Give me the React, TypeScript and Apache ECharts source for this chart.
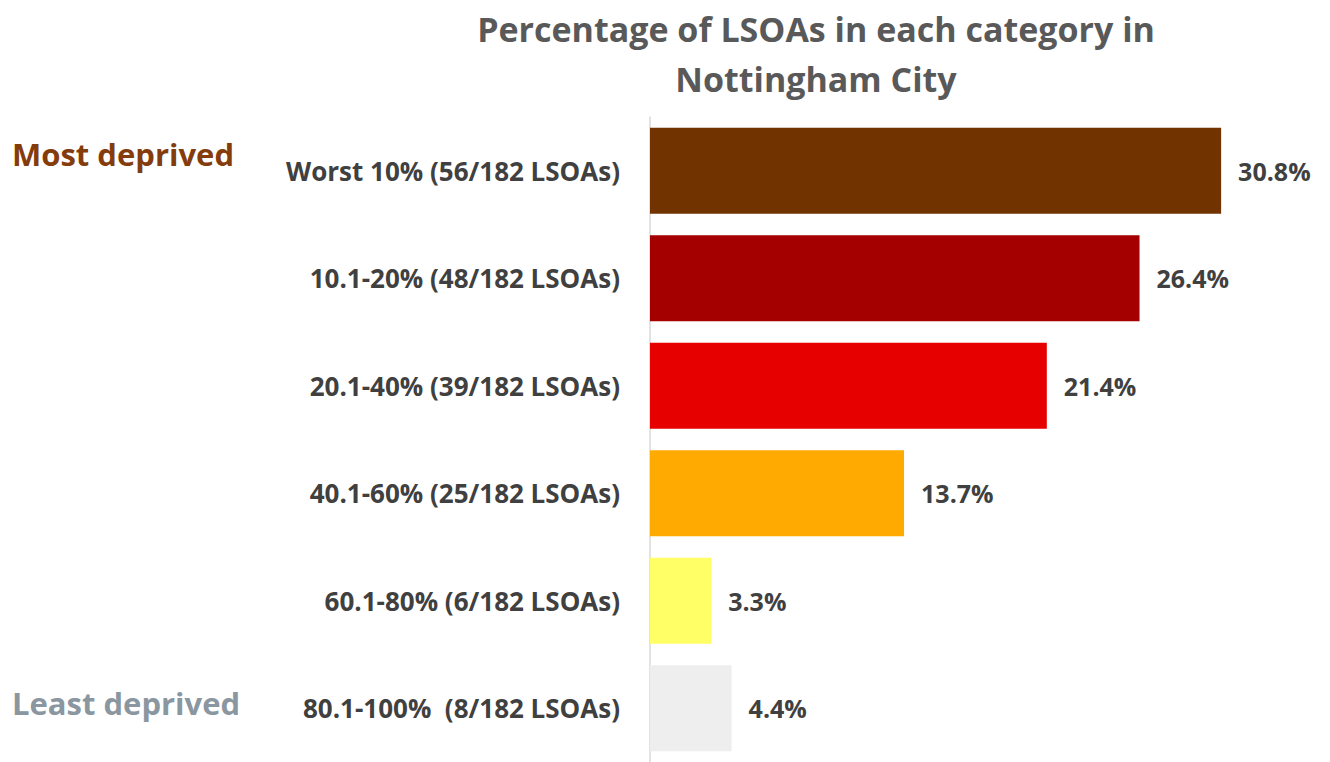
import React, { useEffect, useRef } from "react";
import * as echarts from "echarts";

const categories = [
  "Worst 10% (56/182 LSOAs)",
  "10.1-20% (48/182 LSOAs)",
  "20.1-40% (39/182 LSOAs)",
  "40.1-60% (25/182 LSOAs)",
  "60.1-80% (6/182 LSOAs)",
  "80.1-100%  (8/182 LSOAs)",
];
const values = [30.8, 26.4, 21.4, 13.7, 3.3, 4.4];
const barColors = ["#713300", "#a50000", "#e60000", "#ffaa00", "#ffff66", "#eeeeee"];
const titleText = "Percentage of LSOAs in each category in\nNottingham City";
const topNote = "Most deprived";
const bottomNote = "Least deprived";

const FONT = "'Open Sans', sans-serif";

export default function App() {
  const ref = useRef<HTMLDivElement>(null);
  useEffect(() => {
    if (!ref.current) return;
    const chart = echarts.init(ref.current, undefined, { renderer: "svg" });
    chart.setOption({
      animation: false,
      backgroundColor: "#ffffff",
      title: {
        text: titleText,
        left: 811,
        textAlign: "center",
        top: -1,
        textStyle: {
          fontFamily: FONT,
          fontSize: 34,
          fontWeight: "bold",
          color: "#595959",
          lineHeight: 50,
        },
      },
      grid: { left: 650, top: 117, height: 650, width: 649 },
      xAxis: { type: "value", min: 0, max: 35, show: false },
      yAxis: {
        type: "category",
        data: categories,
        inverse: true,
        axisLine: { show: true, lineStyle: { color: "#d9d9d9", width: 1.5 } },
        axisTick: { show: false },
        axisLabel: {
          margin: 30,
          fontFamily: FONT,
          fontSize: 26,
          fontWeight: "bold",
          color: "#404040",
        },
      },
      series: [
        {
          type: "bar",
          data: values.map((v, i) => ({ value: v, itemStyle: { color: barColors[i] } })),
          barCategoryGap: "20%",
          label: {
            show: true,
            position: "right",
            distance: 17,
            formatter: (p: any) => p.value.toFixed(1) + "%",
            fontFamily: FONT,
            fontSize: 25,
            fontWeight: "bold",
            color: "#404040",
          },
        },
      ],
      graphic: [
        {
          type: "text",
          left: 12,
          top: 138,
          style: {
            text: topNote,
            font: `bold 31px ${FONT}`,
            fill: "#843c0c",
          },
        },
        {
          type: "text",
          left: 12,
          top: 687,
          style: {
            text: bottomNote,
            font: `bold 31px ${FONT}`,
            fill: "#8a96a0",
          },
        },
      ],
    });
    return () => chart.dispose();
  }, []);
  return (
    <div
      ref={ref}
      style={{ position: "absolute", left: 0, top: 0, width: 1330, height: 762 }}
    />
  );
}
